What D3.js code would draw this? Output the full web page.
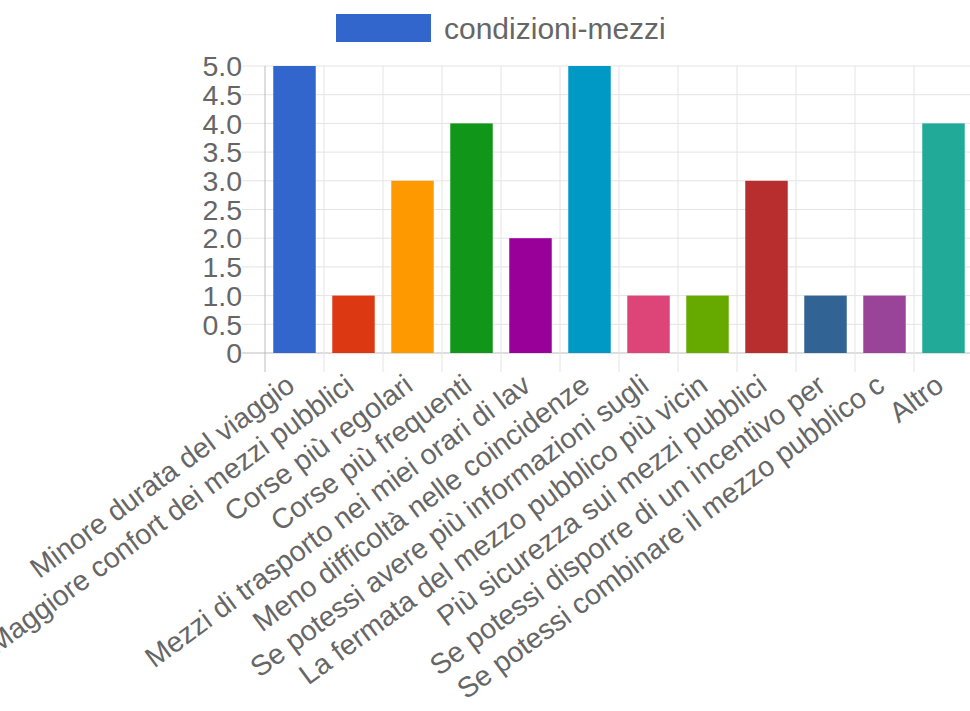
<!DOCTYPE html>
<html><head><meta charset="utf-8">
<script src="https://cdn.jsdelivr.net/npm/d3@7"></script>
<style>html,body{margin:0;padding:0;background:#fff;overflow:hidden}</style>
</head><body>
<svg id="c" width="970" height="711"></svg>
<script>
const categories = [
  "Minore durata del viaggio",
  "Maggiore confort dei mezzi pubblici",
  "Corse più regolari",
  "Corse più frequenti",
  "Mezzi di trasporto nei miei orari di lav",
  "Meno difficoltà nelle coincidenze",
  "Se potessi avere più informazioni sugli",
  "La fermata del mezzo pubblico più vicin",
  "Più sicurezza sui mezzi pubblici",
  "Se potessi disporre di un incentivo per",
  "Se potessi combinare il mezzo pubblico c",
  "Altro"
];
const values = [5, 1, 3, 4, 2, 5, 1, 1, 3, 1, 1, 4];
const colors = ["#3366cc","#dc3912","#ff9900","#109618","#990099","#0099c6","#dd4477","#66aa00","#b82e2e","#316395","#994499","#22aa99"];
const seriesName = "condizioni-mezzi";
const yTicks = [0, 0.5, 1, 1.5, 2, 2.5, 3, 3.5, 4, 4.5, 5];

const svg = d3.select("#c");
const font = "'Liberation Sans', Arial, Helvetica, sans-serif";
const pLeft = 265, pTop = 66, pBottom = 353, step = 59;
const x = d3.scaleBand().domain(categories).range([pLeft, pLeft + step * categories.length]).padding(0);
const y = d3.scaleLinear().domain([0, 5]).range([pBottom, pTop]);
const bw = x.bandwidth();

// horizontal grid + y ticks
svg.append("g").selectAll("line").data(yTicks).join("line")
  .attr("x1", pLeft - 23).attr("x2", 975)
  .attr("y1", d => y(d)).attr("y2", d => y(d))
  .attr("stroke", d => d === 0 ? "#bdbdbd" : "#e4e4e4").attr("stroke-width", 1);
// vertical grid
const vlines = categories.map((c, i) => x(c)).concat([pLeft + step * categories.length]);
svg.append("g").selectAll("line").data(vlines).join("line")
  .attr("x1", d => d).attr("x2", d => d)
  .attr("y1", pTop).attr("y2", pBottom + 19)
  .attr("stroke", (d, i) => i === 0 ? "#bdbdbd" : "#e4e4e4").attr("stroke-width", 1);

// bars
svg.append("g").selectAll("rect").data(values).join("rect")
  .attr("x", (d, i) => x(categories[i]) + bw * 0.14)
  .attr("width", bw * 0.72)
  .attr("y", d => y(d))
  .attr("height", d => y(0) - y(d))
  .attr("fill", (d, i) => colors[i]);

// y labels
svg.append("g").selectAll("text").data(yTicks).join("text")
  .attr("x", 242).attr("y", d => y(d))
  .attr("dy", "0.36em")
  .attr("text-anchor", "end")
  .attr("font-family", font).attr("font-size", 28.5).attr("fill", "#666")
  .text(d => d === 0 ? "0" : d.toFixed(1));

// x labels
const ang = -36.5;
svg.append("g").selectAll("text").data(categories).join("text")
  .attr("transform", d => `translate(${x(d) + bw / 2 + 2},${pBottom + 36}) rotate(${ang})`)
  .attr("text-anchor", "end")
  .attr("font-family", font).attr("font-size", 28.5).attr("fill", "#666")
  .text(d => d);

// legend
svg.append("rect").attr("x", 336).attr("y", 14).attr("width", 95).attr("height", 28).attr("fill", colors[0]);
svg.append("text").attr("x", 444).attr("y", 28).attr("dy", "0.36em")
  .attr("font-family", font).attr("font-size", 30).attr("fill", "#666").text(seriesName);
</script>
</body></html>
